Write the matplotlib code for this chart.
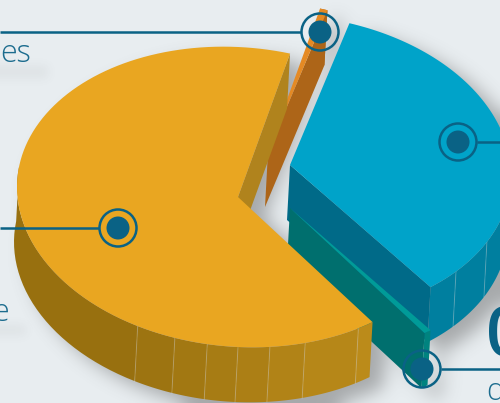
# -*- coding: utf-8 -*-
"""Exploded 3D looking pie chart, everything drawn in pixel coordinates"""

import numpy as np
import matplotlib
matplotlib.use("Agg")
import matplotlib.pyplot as plt
from matplotlib.patches import Polygon, Circle
from matplotlib.path import Path
from matplotlib.colors import to_rgb

# shares of the pie in percent, going clockwise from the top
names = ["blue", "teal", "yellow", "orange"]
values = [34.7, 0.55, 64.2, 0.55]
start_deg = -74.4

centers = {"blue": (290, 165), "teal": (290, 208), "yellow": (238, 197), "orange": (268, 152)}
top_colors = {"blue": "#00a3c9", "teal": "#009b98", "yellow": "#e9a621", "orange": "#e58a24"}
cut_colors = {"blue": "#006a88", "teal": "#006f6e", "yellow": "#b0831d", "orange": "#ad6518"}
wall_colors = {"blue": "#007f9f", "teal": "#00837f", "yellow": "#a9791a", "orange": "#ad6518"}

BG = "#e8edf0"
LINE = "#0a6285"
A, B, K = 221, 150, 10  # ellipse of the pie top
DEPTH = (-3, 55)

# callouts: dot position, side the leader runs to
callouts = [(320, 32, 0), (118, 228, 0), (458, 142, 500), (422, 369, 500)]


def rim(center, t):
    t = np.radians(t)
    return np.column_stack([center[0] + A * np.cos(t), center[1] + B * np.sin(t) + K * np.cos(t)])


def soft_shadow(polys, dx, dy, blur, strength):
    xx, yy = np.meshgrid(np.arange(500) + 0.5, np.arange(403) + 0.5)
    pts = np.column_stack([xx.ravel(), yy.ravel()])
    mask = np.zeros(xx.shape)
    for p in polys:
        mask = np.maximum(mask, Path(p + [dx, dy]).contains_points(pts).reshape(xx.shape))
    kernel = np.exp(-0.5 * (np.arange(-3 * blur, 3 * blur + 1) / blur) ** 2)
    kernel /= kernel.sum()
    pad = 3 * blur
    mask = np.pad(mask, pad, mode="edge")
    mask = np.apply_along_axis(lambda r: np.convolve(r, kernel, mode="same"), 0, mask)
    mask = np.apply_along_axis(lambda r: np.convolve(r, kernel, mode="same"), 1, mask)
    mask = mask[pad:-pad, pad:-pad]
    rgba = np.zeros(mask.shape + (4,))
    rgba[..., :3] = 0.3
    rgba[..., 3] = mask * strength
    return rgba


fig = plt.figure(figsize=(5, 4.03), dpi=100, facecolor=BG)
ax = fig.add_axes([0, 0, 1, 1])
ax.set_xlim(0, 500)
ax.set_ylim(403, 0)
ax.axis("off")

edges = start_deg + np.concatenate([[0], np.cumsum(values)]) * 3.6
spans = {n: (edges[i], edges[i + 1]) for i, n in enumerate(names)}

# outlines first, the shadow needs them
outlines = []
for n in names:
    t0, t1 = spans[n]
    arc = rim(centers[n], np.linspace(t0, t1, 80))
    c = np.array(centers[n], dtype=float)
    outlines.append(np.vstack([[c], arc]))
    outlines.append(np.vstack([[c + DEPTH], arc + DEPTH]))
    outlines.append(np.vstack([arc, (arc + DEPTH)[::-1]]))

ax.imshow(soft_shadow(outlines, 14, 10, 9, 0.42), extent=(0, 500, 403, 0), zorder=1, aspect="auto")

# faint smudges under the labels
smudges = [np.array([[-20, 66], [48, 66], [48, 78], [-20, 78]], dtype=float),
           np.array([[-20, 325], [26, 325], [26, 335], [-20, 335]], dtype=float)]
ax.imshow(soft_shadow(smudges, 0, 0, 5, 0.07), extent=(0, 500, 403, 0), zorder=1, aspect="auto")
ax.set_xlim(0, 500)
ax.set_ylim(403, 0)


def draw_slice(n, z, facets=()):
    t0, t1 = spans[n]
    c = np.array(centers[n], dtype=float)
    # outer wall, only the part turned to the viewer
    lo, hi = max(t0, -8), min(t1, 188)
    if n == "orange":
        lo, hi = t0, t1  # sits at the back, only the thin rim end shows
    cuts = [lo] + [f for f in facets if lo < f < hi] + [hi]
    base = np.array(to_rgb(wall_colors[n]))
    for i in range(len(cuts) - 1):
        arc = rim(c, np.linspace(cuts[i], cuts[i + 1], 30))
        shade = base
        if n == "yellow":
            mix = i / (len(cuts) - 2)
            shade = (1 - mix) * np.array(to_rgb("#bb8b1a")) + mix * np.array(to_rgb("#98700f"))
        ax.add_patch(Polygon(np.vstack([arc, (arc + DEPTH)[::-1]]), fc=shade, ec="none", zorder=z))
    for f in facets:
        if lo <= f <= hi:
            p = rim(c, [f])[0]
            ax.plot([p[0], p[0] + DEPTH[0]], [p[1], p[1] + DEPTH[1]], color="#ffffff", alpha=0.22,
                    lw=0.7, zorder=z + 0.25)
    # the cut face that looks towards the viewer
    p = rim(c, [t1])[0]
    ax.add_patch(Polygon([c, p, p + DEPTH, c + DEPTH], fc=cut_colors[n], ec="none", zorder=z + 0.2))
    # top
    arc = rim(c, np.linspace(t0, t1, 120))
    ax.add_patch(Polygon(np.vstack([[c], arc]), fc=top_colors[n], ec="none", zorder=z + 0.3))


draw_slice("orange", 2)
draw_slice("blue", 3, facets=[12, 27, 41.3])
draw_slice("teal", 4)
draw_slice("yellow", 5, facets=[57, 72.3, 81.7, 90, 98, 106.6, 117])

for x, y, side in callouts:
    ring = 19
    end = x - ring if side == 0 else x + ring
    ax.plot([side, end], [y, y], color=LINE, lw=1.8, zorder=9, solid_capstyle="butt")
    ax.add_patch(Circle((x, y), ring - 0.5, fc="none", ec=LINE, lw=1.8, zorder=9))
    ax.add_patch(Circle((x, y), 11.5, fc=LINE, ec="none", zorder=9))

text_kw = dict(family=["Open Sans", "DejaVu Sans"], fontweight="light", color="#1c6c8e", zorder=10)
ax.text(0, 62, "es", fontsize=22, **text_kw)
ax.text(-8, 321, "e", fontsize=22, **text_kw)
ax.text(486, 400, "d", fontsize=22, **text_kw)
ax.text(486, 355, "0", fontsize=50, fontweight="semibold", color=LINE,
        family=["Open Sans", "DejaVu Sans"], zorder=10)

fig.savefig("out.png", dpi=100, facecolor=BG)
